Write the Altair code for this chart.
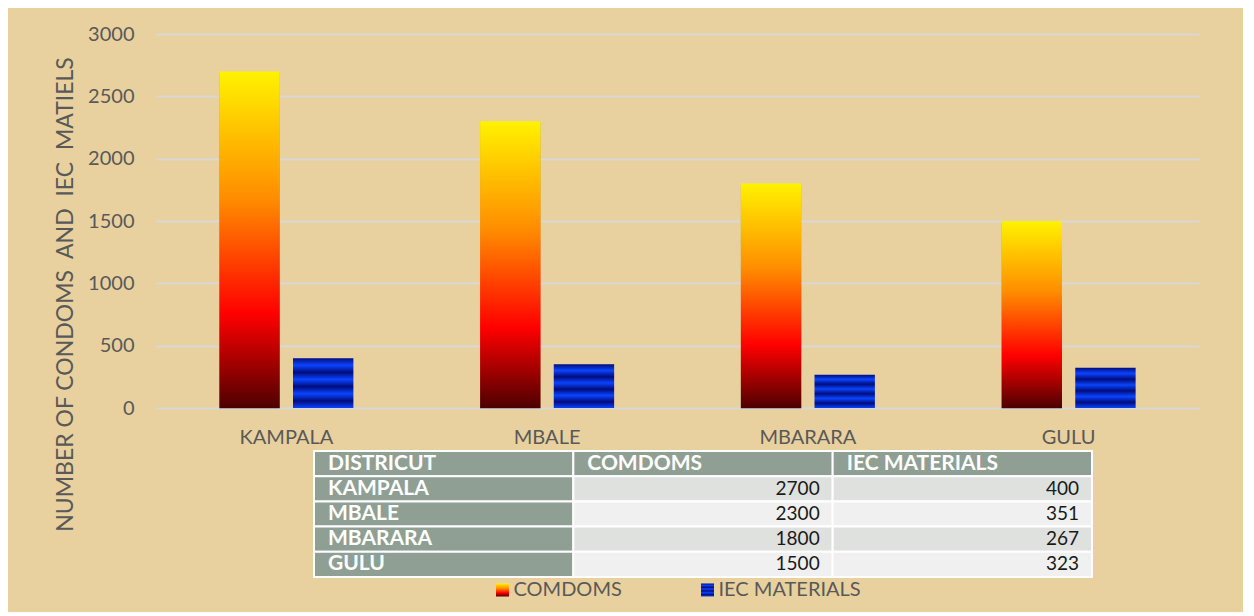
import altair as alt
import pandas as pd

# ---------------- data ----------------
districts = ["KAMPALA", "MBALE", "MBARARA", "GULU"]
condoms = [2700, 2300, 1800, 1500]
iec_materials = [400, 351, 267, 323]
series = ["COMDOMS", "IEC MATERIALS"]
table_header = ["DISTRICUT", "COMDOMS", "IEC MATERIALS"]
y_ticks = [0, 500, 1000, 1500, 2000, 2500, 3000]
y_title = "NUMBER OF CONDOMS\u00a0 AND\u00a0 IEC\u00a0 MATIELS"

GRAY = "#595959"
FONT = "Lato"
BG = "#e8d19e"

rows = []
for d, c, i in zip(districts, condoms, iec_materials):
    rows.append({"district": d, "series": series[0], "value": c})
    rows.append({"district": d, "series": series[1], "value": i})
bars_df = pd.DataFrame(rows)

# ---------------- fills ----------------
fire = alt.LinearGradient(
    gradient="linear", x1=0, y1=1, x2=0, y2=0,
    stops=[
        alt.GradientStop(offset=0, color="#4e0000"),
        alt.GradientStop(offset=0.28, color="#ff0000"),
        alt.GradientStop(offset=0.62, color="#ff8c00"),
        alt.GradientStop(offset=1, color="#fff200"),
    ],
)
stripe_stops = []
n_steps = 7
for k in range(n_steps + 1):
    stripe_stops.append(alt.GradientStop(offset=k / n_steps,
                                         color="#0a44ff" if k % 2 == 0 else "#000c7c"))
stripes = alt.LinearGradient(gradient="linear", x1=0, y1=1, x2=0, y2=0, stops=stripe_stops)

# ---------------- bar chart ----------------
x_enc = alt.X(
    "district:N", sort=districts,
    scale=alt.Scale(paddingInner=0.486, paddingOuter=0.243),
    axis=alt.Axis(title=None, labelAngle=0, domain=False, ticks=False,
                  labelFontSize=20, labelColor=GRAY, labelFont=FONT, labelPadding=19),
)
xo_enc = alt.XOffset("series:N", sort=series, scale=alt.Scale(paddingInner=0.18))
y_enc = alt.Y(
    "value:Q", scale=alt.Scale(domain=[0, 3000]),
    axis=alt.Axis(values=y_ticks, format="d", title=y_title,
                  grid=True, gridColor="#d8d8d8", gridWidth=2, domain=False, ticks=False,
                  labelFontSize=20, labelColor=GRAY, labelFont=FONT, labelPadding=22,
                  titleFontSize=23, titleColor=GRAY, titleFont=FONT, titleFontWeight="normal",
                  titlePadding=10, titleY=260),
)

base = alt.Chart(bars_df).encode(x=x_enc, xOffset=xo_enc, y=y_enc)
shadow = base.mark_bar(color="#000000", opacity=0.22, xOffset=3, yOffset=1).transform_filter(
    alt.datum.series == series[0])
cond_bars = base.mark_bar(color=fire).transform_filter(alt.datum.series == series[0])
iec_bars = base.mark_bar(color=stripes).transform_filter(alt.datum.series == series[1])
bar_chart = alt.layer(shadow, cond_bars, iec_bars).properties(width=1043, height=374)

# ---------------- table ----------------
row_keys = ["HEADER"] + districts
cells = []
for ci, h in enumerate(table_header):
    cells.append({"row": "HEADER", "col": h, "label": h, "num": "", "kind": "head"})
for ri, (d, c, i) in enumerate(zip(districts, condoms, iec_materials)):
    shade = "dark" if ri % 2 == 0 else "light"
    cells.append({"row": d, "col": table_header[0], "label": d, "num": "", "kind": "head"})
    cells.append({"row": d, "col": table_header[1], "label": "", "num": str(c), "kind": shade})
    cells.append({"row": d, "col": table_header[2], "label": "", "num": str(i), "kind": shade})
table_df = pd.DataFrame(cells)

band0 = alt.Scale(paddingInner=0, paddingOuter=0)
tx = alt.X("col:N", sort=table_header, scale=band0, axis=None)
ty = alt.Y("row:N", sort=row_keys, scale=band0, axis=None)
tbase = alt.Chart(table_df)
cell_rects = tbase.mark_rect(stroke="white", strokeWidth=2).encode(
    x=tx, y=ty,
    color=alt.Color("kind:N", scale=alt.Scale(domain=["head", "dark", "light"],
                                              range=["#8f9f94", "#dfe1df", "#eff0ef"]),
                    legend=None),
)
label_text = tbase.mark_text(align="left", baseline="middle", dx=14, fontSize=21,
                             fontWeight="bold", font=FONT, color="white").encode(
    x=alt.X("col:N", sort=table_header, bandPosition=0, scale=band0, axis=None),
    y=ty, text="label:N")
num_text = tbase.mark_text(align="right", baseline="middle", dx=-13, fontSize=19,
                           font=FONT, color="#1a1a1a").encode(
    x=alt.X("col:N", sort=table_header, bandPosition=1, scale=band0, axis=None),
    y=ty, text="num:N")
table_chart = alt.layer(cell_rects, label_text, num_text).properties(width=778, height=126)

spacer = alt.Chart(pd.DataFrame({"a": [""]})).mark_text().encode(text="a:N").properties(
    width=157, height=126)
table_row = alt.hconcat(spacer, table_chart, spacing=0)

# ---------------- legend ----------------
leg_df = pd.DataFrame({"series": series})
lbase = alt.Chart(leg_df).encode(
    x=alt.X("series:N", sort=series, bandPosition=0, scale=band0, axis=None))
leg_sq1 = lbase.mark_square(size=169, color=fire, opacity=1).transform_filter(
    alt.datum.series == series[0])
leg_sq2 = lbase.mark_square(size=169, color=stripes, opacity=1).transform_filter(
    alt.datum.series == series[1])
leg_txt = lbase.mark_text(align="left", baseline="middle", dx=11, fontSize=20, font=FONT,
                          color=GRAY).encode(text="series:N")
legend_chart = alt.layer(leg_sq1, leg_sq2, leg_txt).properties(width=410, height=16)
spacer2 = alt.Chart(pd.DataFrame({"a": [""]})).mark_text().encode(text="a:N").properties(
    width=244, height=16)
legend_row = alt.hconcat(spacer2, legend_chart, spacing=0)

lower = alt.vconcat(table_row, legend_row, spacing=2)

chart = alt.vconcat(bar_chart, lower, spacing=43, bounds="flush").properties(
    background=BG,
    padding={"left": 46, "top": 16, "right": 44, "bottom": 12},
).configure_view(stroke=None)

chart.save("out.html", embed_options={"renderer": "svg", "actions": False})
